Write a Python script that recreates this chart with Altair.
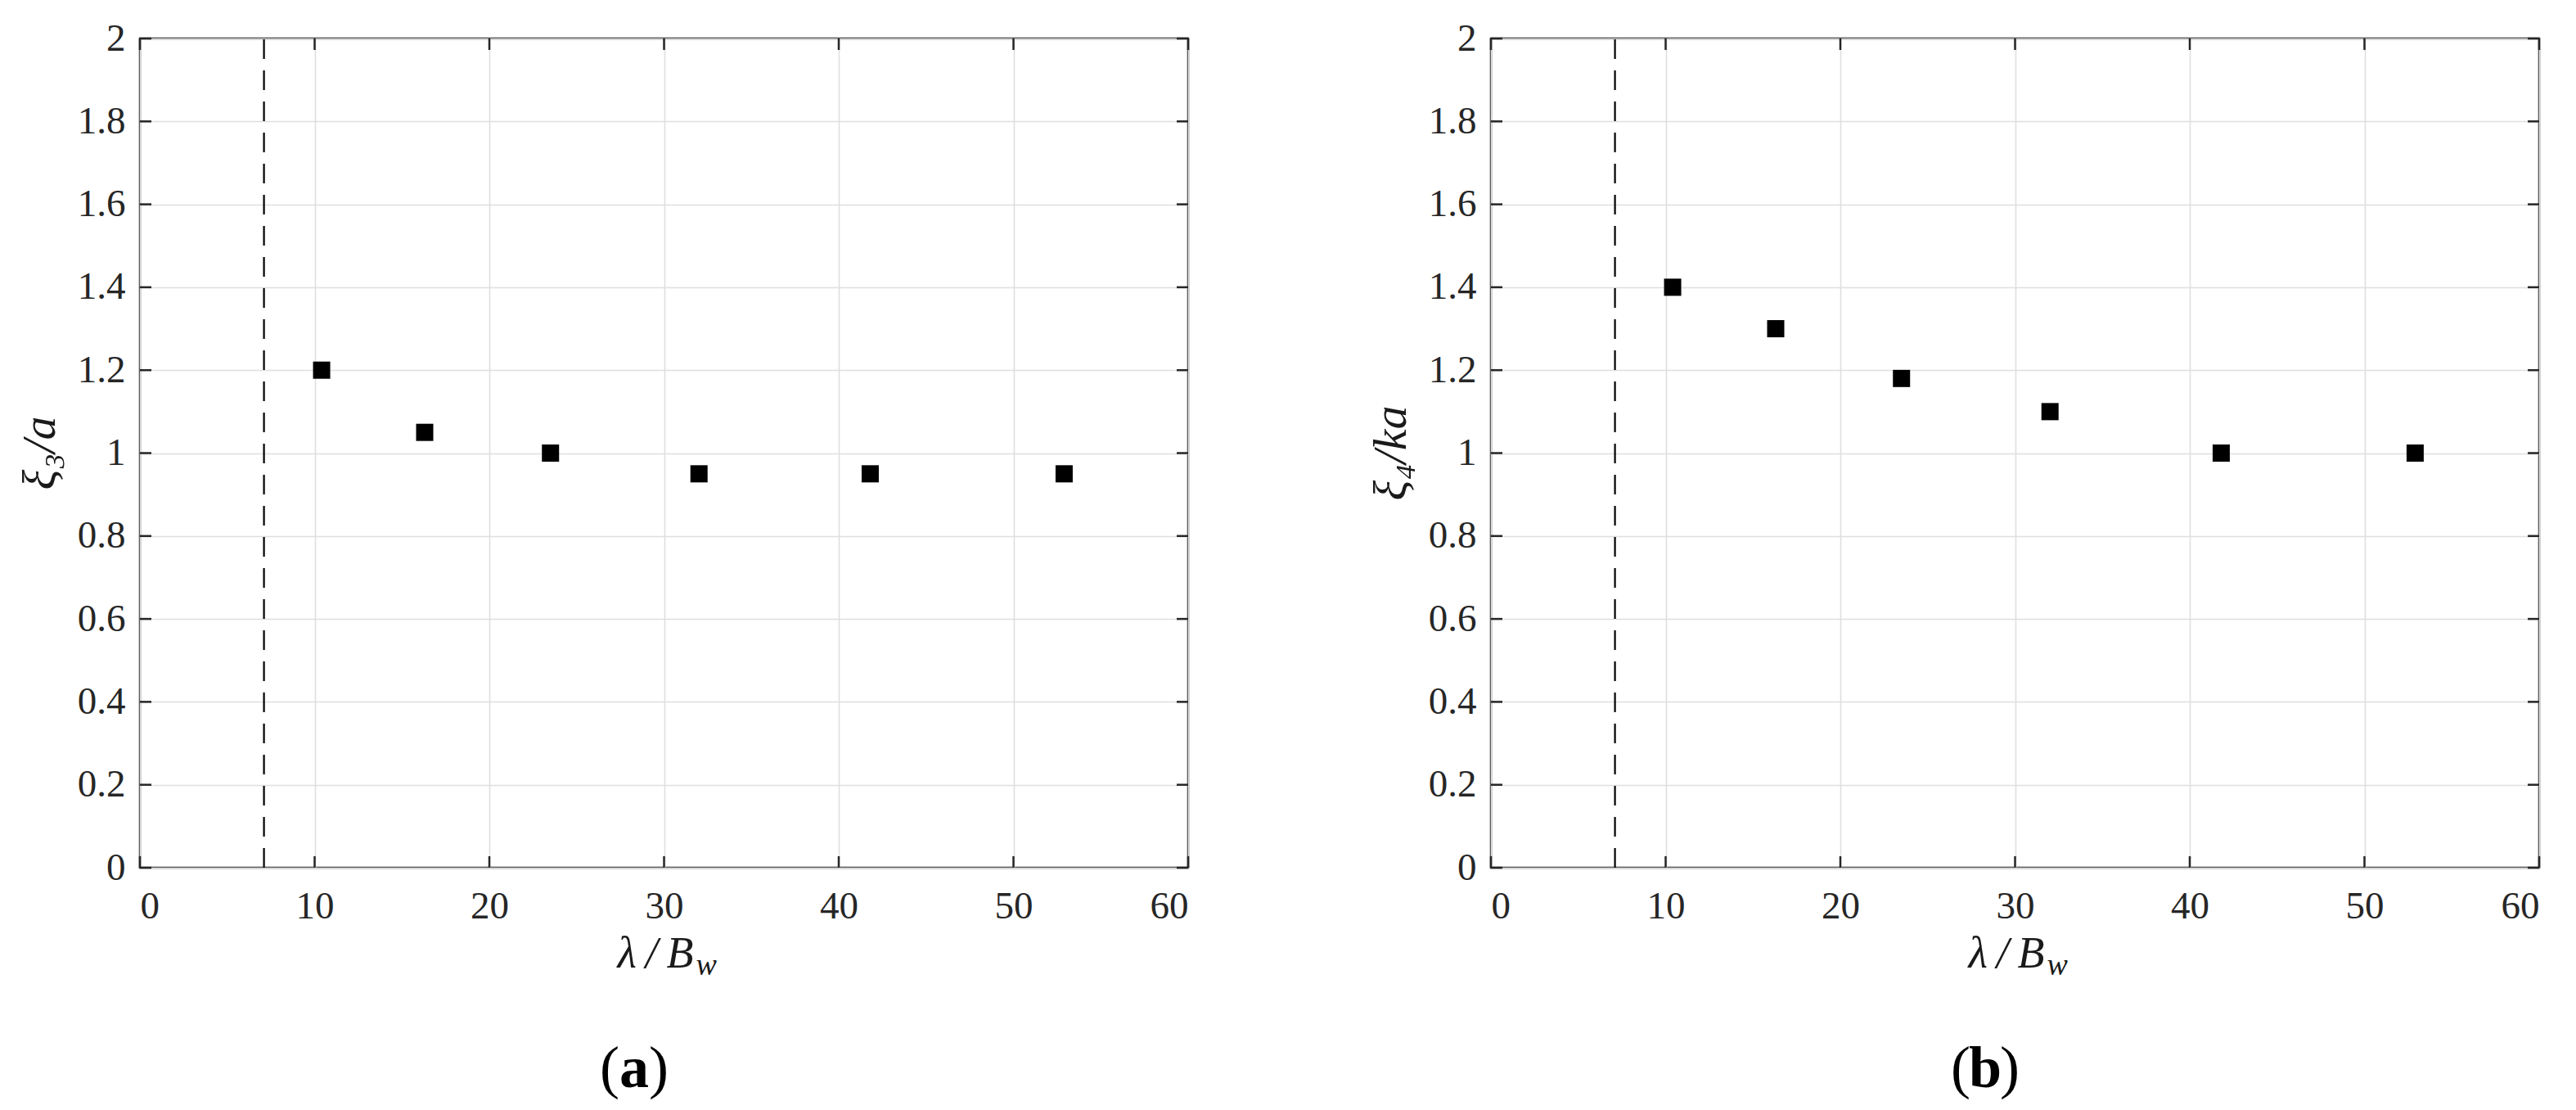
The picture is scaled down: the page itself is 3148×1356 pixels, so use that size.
import altair as alt
import pandas as pd

# ---- data ----
x_ratio = [10.4, 16.3, 23.5, 32.0, 41.8, 52.9]          # lambda / B_w
xi3_over_a = [1.20, 1.05, 1.00, 0.95, 0.95, 0.95]        # panel (a)
xi4_over_ka = [1.40, 1.30, 1.18, 1.10, 1.00, 1.00]       # panel (b)
cutoff = [7.1]                                           # dashed vertical line
x_ticks = [0, 10, 20, 30, 40, 50, 60]
y_ticks = [0, 0.2, 0.4, 0.6, 0.8, 1.0, 1.2, 1.4, 1.6, 1.8, 2.0]
y_titles = ["ξ₃/a", "ξ₄/ka"]
x_title_main = ["λ\u2009/\u2009B"]
x_title_sub = ["w"]
panel_tags = ["a", "b"]

W, H = 1281, 1013
FONT = "Liberation Serif"
DARK = "#262626"
TL = 14  # inner tick length

X_AXIS = alt.Axis(values=x_ticks, format="d", grid=True, gridColor="#dfdfdf",
                  gridWidth=1.6, domain=False, ticks=False, tickSize=0,
                  labelFont=FONT, labelFontSize=47, labelColor=DARK,
                  labelPadding=24, title=None)
Y_AXIS = alt.Axis(values=y_ticks, format=".1~f", grid=True, gridColor="#dfdfdf",
                  gridWidth=1.6, domain=False, ticks=False, tickSize=0,
                  labelFont=FONT, labelFontSize=47, labelColor=DARK,
                  labelPadding=18, title=None)


def panel(yvals, ytitle, tag):
    xs = alt.Scale(domain=[0, 60], nice=False, zero=False)
    ys = alt.Scale(domain=[0, 2], nice=False, zero=False)

    df = pd.DataFrame({"x": x_ratio, "y": yvals})
    points = alt.Chart(df).mark_square(size=441, color="black", opacity=1).encode(
        x=alt.X("x:Q", scale=xs, axis=X_AXIS),
        y=alt.Y("y:Q", scale=ys, axis=Y_AXIS),
    )

    cut = alt.Chart(pd.DataFrame({"x": cutoff, "y0": [0], "y1": [2]})).mark_rule(
        color="black", strokeDash=[24, 14], strokeWidth=2.2
    ).encode(
        x=alt.X("x:Q", scale=xs, axis=X_AXIS),
        y=alt.Y("y0:Q", scale=ys, axis=Y_AXIS),
        y2="y1:Q",
    )

    xt = pd.DataFrame({"t": x_ticks})
    yt = pd.DataFrame({"t": y_ticks})
    tick_style = dict(color=DARK, strokeWidth=2.5)
    xb = alt.Chart(xt).mark_rule(**tick_style).encode(
        x=alt.X("t:Q", scale=xs, axis=X_AXIS), y=alt.value(H), y2=alt.value(H - TL))
    xtop = alt.Chart(xt).mark_rule(**tick_style).encode(
        x=alt.X("t:Q", scale=xs, axis=X_AXIS), y=alt.value(0), y2=alt.value(TL))
    yl = alt.Chart(yt).mark_rule(**tick_style).encode(
        y=alt.Y("t:Q", scale=ys, axis=Y_AXIS), x=alt.value(0), x2=alt.value(TL))
    yr = alt.Chart(yt).mark_rule(**tick_style).encode(
        y=alt.Y("t:Q", scale=ys, axis=Y_AXIS), x=alt.value(W - TL), x2=alt.value(W))

    ytitle_mark = alt.Chart(pd.DataFrame({"t": [ytitle]})).mark_text(
        angle=270, font=FONT, fontStyle="italic", fontSize=58, color="#1a1a1a",
        align="center", baseline="middle"
    ).encode(text="t:N", x=alt.value(-121), y=alt.value(H / 2))

    xt_main = alt.Chart(pd.DataFrame({"t": x_title_main})).mark_text(
        font=FONT, fontStyle="italic", fontSize=54, color="#1a1a1a",
        align="right", baseline="alphabetic"
    ).encode(text="t:N", x=alt.value(W / 2 + 36), y=alt.value(H + 122))
    xt_sub = alt.Chart(pd.DataFrame({"t": x_title_sub})).mark_text(
        font=FONT, fontStyle="italic", fontSize=38, color="#1a1a1a",
        align="left", baseline="alphabetic"
    ).encode(text="t:N", x=alt.value(W / 2 + 39), y=alt.value(H + 131))

    cx = 604
    by = H + 268
    lp = alt.Chart(pd.DataFrame({"t": ["("]})).mark_text(
        font=FONT, fontSize=72, color="black", align="right", baseline="alphabetic"
    ).encode(text="t:N", x=alt.value(cx - 18), y=alt.value(by))
    mid = alt.Chart(pd.DataFrame({"t": [tag]})).mark_text(
        font=FONT, fontSize=72, fontWeight="bold", color="black", align="center",
        baseline="alphabetic"
    ).encode(text="t:N", x=alt.value(cx), y=alt.value(by))
    rp = alt.Chart(pd.DataFrame({"t": [")"]})).mark_text(
        font=FONT, fontSize=72, color="black", align="left", baseline="alphabetic"
    ).encode(text="t:N", x=alt.value(cx + 18), y=alt.value(by))

    return alt.layer(points, cut, xb, xtop, yl, yr, ytitle_mark, xt_main, xt_sub,
                     lp, mid, rp).properties(width=W, height=H)


left = panel(xi3_over_a, y_titles[0], panel_tags[0])
right = panel(xi4_over_ka, y_titles[1], panel_tags[1])

chart = alt.hconcat(left, right, spacing=215).properties(
    padding={"left": 11, "top": 13, "right": 5, "bottom": 5},
    background="white",
).configure_view(stroke=DARK, strokeWidth=2.5)

chart.save("out.html", embed_options={"renderer": "svg", "actions": False})
